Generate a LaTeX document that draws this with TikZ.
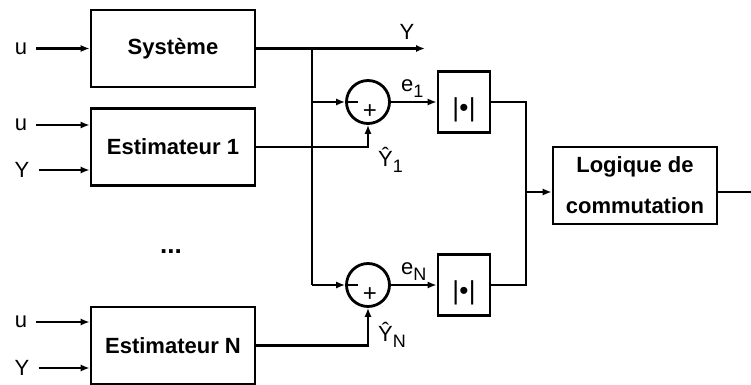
\documentclass[tikz,border=0pt]{standalone}
\usepackage{fontspec}
\setmainfont{Liberation Sans}
\usetikzlibrary{arrows.meta}
\newcommand{\lowidx}[1]{\raisebox{-3pt}{\fontsize{9}{9}\selectfont #1}}
\newcommand{\absval}{\raisebox{-7.5pt}[0pt][0pt]{\fontsize{13}{13}\selectfont|\kern0.2pt\textbullet\kern0.2pt|}}

\begin{document}
\begin{tikzpicture}[x=0.5pt, y=-0.5pt, line width=1.2pt,
    box/.style={draw, line width=1.4pt, minimum width=82pt, minimum height=38.5pt,
        inner sep=2pt, align=center, font=\bfseries\fontsize{11}{20.5}\selectfont},
    absbox/.style={draw, line width=1.4pt, minimum width=26pt,
        minimum height=30.5pt, inner sep=0pt},
    summer/.style={draw, line width=1.4pt, circle, minimum size=21.5pt, inner sep=0pt},
    signal/.style={inner sep=4pt, font=\fontsize{11}{13}\selectfont},
    tag/.style={signal, anchor=base west, inner sep=0pt},
    arrow/.style={-{Latex[length=4.5pt, width=3.6pt]}}
]
    \useasboundingbox (0,0) rectangle (751,385);

    % blocks
    \node[box] (sys) at (173,48.5) {Système};
    \node[box] (est1) at (173,147) {Estimateur 1};
    \node[box] (estN) at (173,345.5) {Estimateur N};
    \node[summer] (sum1) at (368,102) {};
    \node[summer] (sumN) at (368,285) {};
    \node[absbox] (abs1) at (464,102) {\absval};
    \node[absbox] (absN) at (464,285) {\absval};
    \node[box] (logic) at (635,185.5) {Logique de\\commutation};
    \node[font=\bfseries\fontsize{13}{15}\selectfont] (dots) at (171,252) {...};

    % inputs
    \node[signal] (u0) at (21,48.5) {u};
    \node[signal] (u1) at (21,125) {u};
    \node[signal] (y1) at (22,170) {Y};
    \node[signal] (uN) at (21,322) {u};
    \node[signal] (yN) at (22,368) {Y};
    \draw[arrow] (u0.east) -- (sys.west |- u0);
    \draw[arrow] (u1.east) -- (est1.west |- u1);
    \draw[arrow] (y1.east) -- (est1.west |- y1);
    \draw[arrow] (uN.east) -- (estN.west |- uN);
    \draw[arrow] (yN.east) -- (estN.west |- yN);

    % measured output and branch
    \coordinate (yout) at (425,48.5);
    \node[signal, inner sep=0pt] (ylbl) at (407,32) {Y};
    \draw[arrow] (sys.east) -- (yout);
    \coordinate (br1) at (312,102);
    \coordinate (brN) at (312,285);
    \draw (sys.east -| br1) -- (brN);
    \draw[arrow] (br1) -- (sum1.west);
    \draw[arrow] (brN) -- (sumN.west);
    \draw[arrow] (est1.east) -| (sum1.south);
    \draw[arrow] (estN.east) -| (sumN.south);

    % signs
    \draw (sum1.west) -- ++(13,0);
    \draw (sumN.west) -- ++(13,0);
    \node[signal, inner sep=0pt, font=\fontsize{12}{14}\selectfont] (plus1) at (370,112) {+};
    \node[signal, inner sep=0pt, font=\fontsize{12}{14}\selectfont] (plusN) at (370,295) {+};

    % residuals
    \draw[arrow] (sum1.east) -- (abs1.west);
    \draw[arrow] (sumN.east) -- (absN.west);
    \node[tag] (e1) at (400,92) {e\lowidx{1}};
    \node[tag] (eN) at (400,275) {e\lowidx{N}};
    \node[tag] (yh1) at (377,167) {Ŷ\lowidx{1}};
    \node[tag] (yhN) at (377,342) {Ŷ\lowidx{N}};

    % switching logic
    \coordinate (junc) at (526,192);
    \draw (abs1.east) -| (junc);
    \draw (absN.east) -| (junc);
    \draw[arrow] (junc) -- (logic.west |- junc);
    \coordinate (out) at (751,192);
    \draw (logic.east |- junc) -- (out);
\end{tikzpicture}
\end{document}
